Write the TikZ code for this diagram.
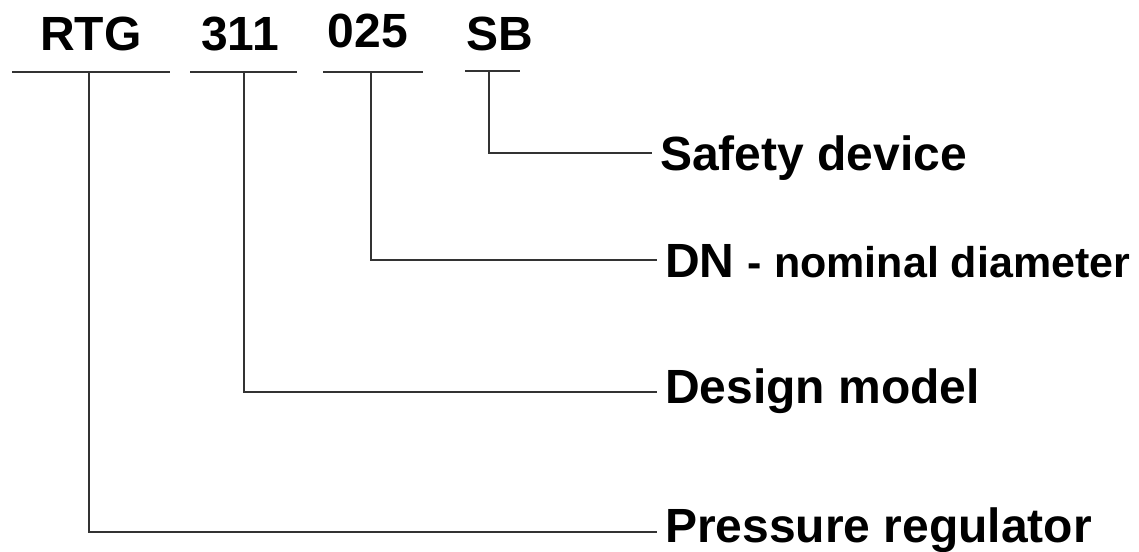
\documentclass[tikz,border=0pt]{standalone}
\usepackage{fontspec}
\setmainfont{Liberation Sans}
\usetikzlibrary{positioning,calc}

\tikzset{
  code/.style={font=\fontsize{48}{50}\selectfont\bfseries, inner sep=0pt, anchor=base},
  meaning/.style={font=\fontsize{48}{50}\selectfont\bfseries, inner xsep=8pt, inner ysep=0pt, anchor=base west},
  lead/.style={line width=2.2pt, black!80},
}

\begin{document}
\begin{tikzpicture}[x=1pt, y=-1pt]
\useasboundingbox (0,0) rectangle (1139,551);
% type code
\node[code] (rtg) at (91,51) {RTG};
\node[code] (mod) at (240,51) {311};
\node[code] (dn) at (368,48) {025};
\node[code] (sb) at (500,51) {SB};
% underlines and taps
\coordinate (rtgL) at (12,72);  \coordinate (rtgR) at (170,72);  \coordinate (rtgT) at (89,72);
\coordinate (modL) at (190,72); \coordinate (modR) at (297,72);  \coordinate (modT) at (244,72);
\coordinate (dnL) at (323,72);  \coordinate (dnR) at (423,72);   \coordinate (dnT) at (371,72);
\coordinate (sbL) at (465,71);  \coordinate (sbR) at (520,71);   \coordinate (sbT) at (489,71);
\draw[lead] (rtgL) -- (rtgR);
\draw[lead] (modL) -- (modR);
\draw[lead] (dnL) -- (dnR);
\draw[lead] (sbL) -- (sbR);
% meanings
\node[meaning] (safety) at (652,170) {Safety device};
\node[meaning] (diam) at (657,277) {DN {\fontsize{43}{45}\selectfont - nominal diameter}};
\node[meaning] (design) at (657,403) {Design model};
\node[meaning] (press) at (657,542) {Pressure regulator};
% leaders
\draw[lead] (sbT) |- ([yshift=17pt]safety.base west);
\draw[lead] (dnT) |- ([yshift=17pt]diam.base west);
\draw[lead] (modT) |- ([yshift=11pt]design.base west);
\draw[lead] (rtgT) |- ([yshift=10pt]press.base west);
\end{tikzpicture}
\end{document}
